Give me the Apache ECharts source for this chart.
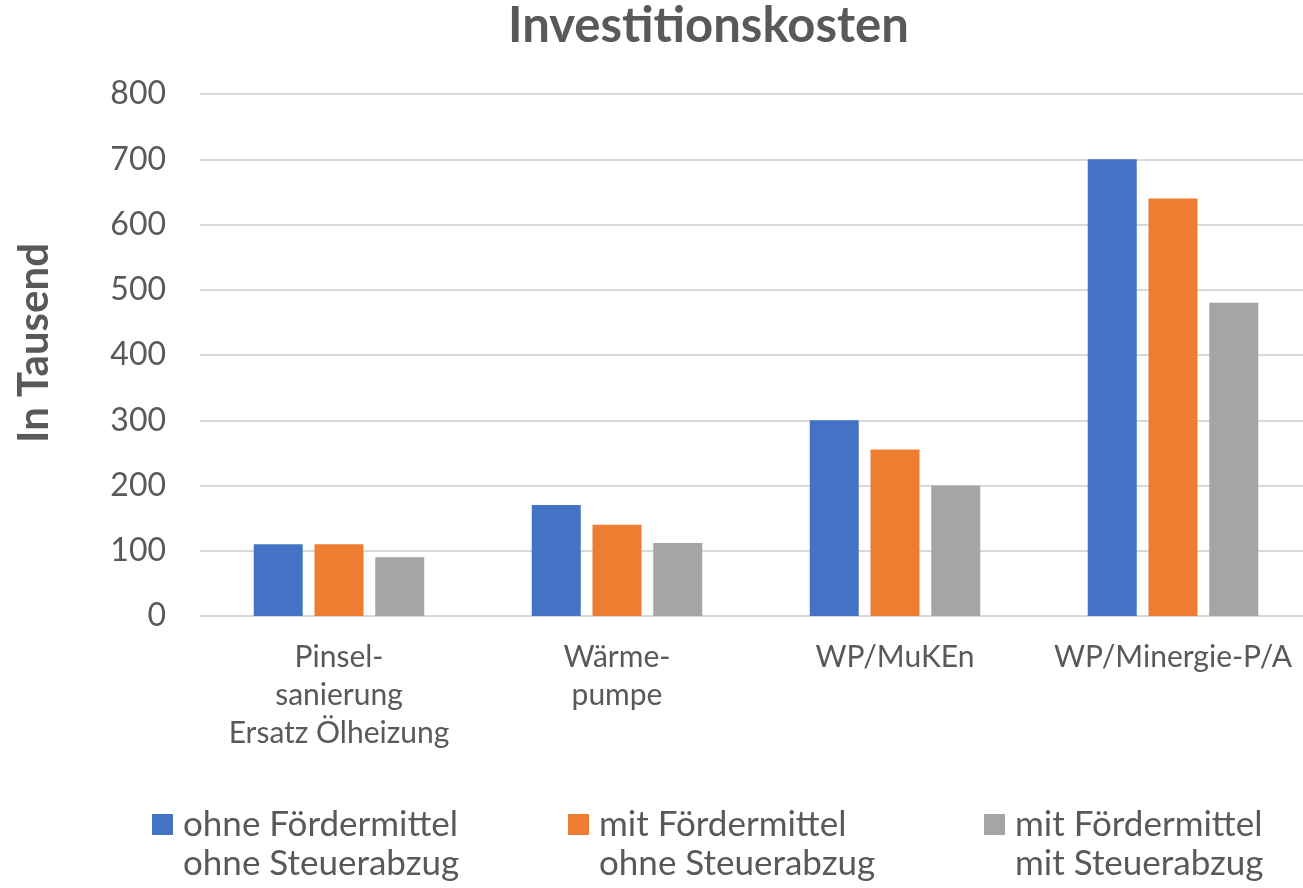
<!DOCTYPE html>
<html>
<head>
<meta charset="utf-8">
<title>Investitionskosten</title>
<script src="https://cdn.jsdelivr.net/npm/echarts@6/dist/echarts.min.js"></script>
<style>
  html, body { margin: 0; padding: 0; background: #fff; overflow: hidden; }
  /* etwas breiter als das Fenster: Plotfläche läuft rechts aus dem Bild wie im Original */
  #chart { width: 1312px; height: 888px; }
</style>
</head>
<body>
<div id="chart"></div>
<script>
// Kategorien (x-Achse)
var categories = ['Pinsel-\nsanierung\nErsatz Ölheizung', 'Wärme-\npumpe', 'WP/MuKEn', 'WP/Minergie-P/A'];
// Serien
var seriesNames = ['ohne Fördermittel\nohne Steuerabzug', 'mit Fördermittel\nohne Steuerabzug', 'mit Fördermittel\nmit Steuerabzug'];
var ohneFoerderOhneSteuer = [110, 170, 300, 700];
var mitFoerderOhneSteuer = [110, 140, 255, 640];
var mitFoerderMitSteuer = [90, 112, 200, 480];
// y-Achse
var yMin = 0, yMax = 800, yStep = 100;

var colors = ['#4472C4', '#ED7D31', '#A5A5A5'];
var font = 'Lato, "Open Sans", sans-serif';
var textColor = '#595959';

var myChart = echarts.init(document.getElementById('chart'));

// eine Legende pro Serie, damit die Positionen passen
function makeLegend(i, left) {
  return {
    data: [seriesNames[i]],
    left: left,
    top: 766,
    padding: 0,
    itemWidth: 21,
    itemHeight: 21,
    icon: 'rect',
    // leere erste Zeile -> Symbol steht auf Höhe der ersten Textzeile
    formatter: function (name) { return ' \n' + name; },
    textStyle: {
      fontFamily: font,
      fontSize: 35,
      color: textColor,
      lineHeight: 39,
      padding: [0, 0, 0, 5]
    }
  };
}

var seriesData = [ohneFoerderOhneSteuer, mitFoerderOhneSteuer, mitFoerderMitSteuer];

var options = {
  animation: false,
  backgroundColor: '#fff',
  color: colors,
  title: {
    text: 'Investitionskosten',
    left: 508,
    top: 2,
    padding: 0,
    textStyle: {
      fontFamily: font,
      fontSize: 49,
      fontWeight: 'bold',
      color: textColor
    }
  },
  legend: [makeLegend(0, 152), makeLegend(1, 568), makeLegend(2, 984)],
  grid: {
    left: 200,
    right: 0,
    top: 94,
    height: 522,
    containLabel: false
  },
  xAxis: {
    type: 'category',
    data: categories,
    axisTick: { show: false },
    axisLine: { show: true, lineStyle: { color: '#d9d9d9', width: 2 } },
    axisLabel: {
      fontFamily: font,
      fontSize: 30,
      color: textColor,
      lineHeight: 38,
      margin: 22,
      interval: 0
    }
  },
  yAxis: {
    type: 'value',
    min: yMin,
    max: yMax,
    interval: yStep,
    name: 'In Tausend',
    nameLocation: 'middle',
    nameGap: 145,
    nameTextStyle: {
      fontFamily: font,
      fontSize: 42,
      fontWeight: 'bold',
      color: textColor,
      padding: [0, 0, 0, 24]
    },
    axisLine: { show: false },
    axisTick: { show: false },
    axisLabel: {
      fontFamily: font,
      fontSize: 32,
      color: textColor,
      margin: 34
    },
    splitLine: { lineStyle: { color: '#d9d9d9', width: 2 } }
  },
  series: seriesData.map(function (d, i) {
    return {
      name: seriesNames[i],
      type: 'bar',
      data: d,
      barWidth: 49,
      barGap: '24%',
      itemStyle: { color: colors[i] }
    };
  })
};

myChart.setOption(options);
</script>
</body>
</html>
